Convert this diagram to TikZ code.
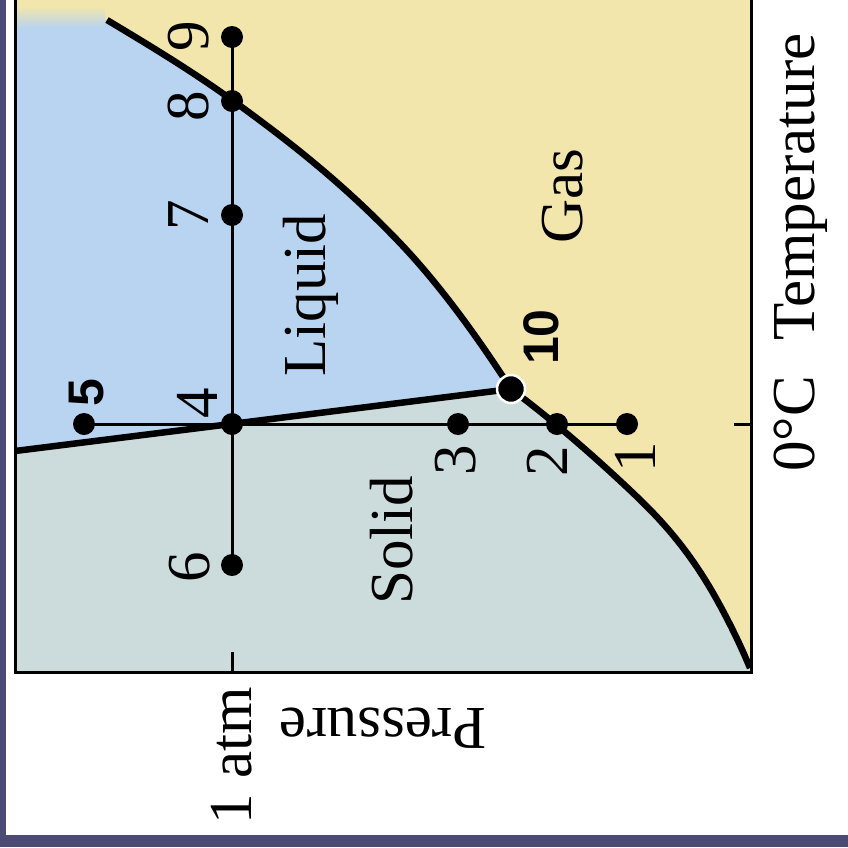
\documentclass[tikz,border=0pt]{standalone}
\usepackage{fontspec}
\setmainfont{Liberation Serif}
\newfontfamily\labelsans{Liberation Sans}
\usetikzlibrary{calc}
\definecolor{gasfill}{HTML}{F2E6AC}
\definecolor{liqfill}{HTML}{B8D4F0}
\definecolor{solfill}{HTML}{CCDBDB}
\definecolor{slidebg}{HTML}{4B4A74}
\newcommand{\vapcurve}{(107,20) .. controls (148.7,45) and (190.3,70) .. (232,100)
  .. controls (288,140.3) and (344,184.2) .. (400,243)
  .. controls (437,281.9) and (474,331.6) .. (511,389)}
\newcommand{\subcurve}{(511,389) .. controls (551.7,419.5) and (592.3,454.4) .. (633,493)
  .. controls (661,519.6) and (689,549.6) .. (717,600)
  .. controls (728,619.8) and (739,641.6) .. (750,668)}

\begin{document}
\begin{tikzpicture}[x=1pt,y=-1pt,
  phase/.style={line width=6.5pt,line join=round},
  proc/.style={line width=3pt},
  dot/.style={circle,fill=black,inner sep=0pt,minimum size=22pt},
  tdot/.style={circle,fill=black,draw=white,line width=2.5pt,inner sep=0pt,minimum size=28pt},
  lbl/.style={rotate=90,anchor=base,inner sep=0pt,font=\fontsize{61}{61}\selectfont},
  blbl/.style={rotate=90,anchor=base,inner sep=0pt,font=\labelsans\bfseries\fontsize{50}{50}\selectfont}]
\useasboundingbox (0,0) rectangle (848,847);
\fill[white] (0,0) rectangle (848,847);
\fill[slidebg] (0,0) rectangle (6,847);
\fill[slidebg] (0,835) rectangle (848,847);
% phase regions
\coordinate (tp) at (511,389);
\fill[gasfill] (15,0) rectangle (751,672);
\fill[liqfill] (15,20) -- \vapcurve -- (15,451) -- cycle;
\fill[solfill] (15,451) -- \subcurve -- (751,672) -- (15,672) -- cycle;
\shade[top color=gasfill,bottom color=liqfill] (17,6) rectangle (105,28);
% phase boundaries
\draw[phase] \vapcurve;
\draw[phase] \subcurve;
\draw[phase] (15,451) -- (tp);
% axes
\draw[line width=3pt] (15.5,0) -- (15.5,672) -- (751,672) -- (751,0);
\draw[line width=3pt] (232,652) -- (232,672);
\draw[line width=3pt] (734,424) -- (751,424);
% points
\node[dot] (p9) at (232,37) {};
\node[dot] (p8) at (232,101) {};
\node[dot] (p7) at (232,215) {};
\node[dot] (p4) at (232,424) {};
\node[dot] (p6) at (232,565) {};
\node[dot] (p5) at (84,424) {};
\node[dot] (p3) at (458,424) {};
\node[dot] (p2) at (557,424) {};
\node[dot] (p1) at (627,424) {};
\node[tdot] (p10) at (tp) {};
\draw[proc] (p9.center) -- (p6.center);
\draw[proc] (p5.center) -- (p1.center);
% labels
\node[lbl] (l9) at (208,36) {9};
\node[lbl] (l8) at (208,106) {8};
\node[lbl] (l7) at (208,215) {7};
\node[lbl] (l4) at (217,403) {4};
\node[lbl] (l6) at (209,567) {6};
\node[lbl] (l3) at (475,460) {3};
\node[lbl] (l2) at (567,461) {2};
\node[lbl] (l1) at (655,457) {1};
\node[blbl] (l5) at (103,393) {5};
\node[blbl] (l10) at (558,337) {10};
\node[lbl] (liq) at (325,295) {Liquid};
\node[lbl] (gas) at (582,196) {Gas};
\node[lbl] (sol) at (412,540) {Solid};
\node[lbl] (atm) at (251,756) {1 atm};
\node[lbl] (zero) at (814,424) {0°C};
\node[lbl] (temp) at (814,187) {Temperature};
\node[lbl,rotate=90] (pres) at (383,708) {Pressure};
\end{tikzpicture}
\end{document}
